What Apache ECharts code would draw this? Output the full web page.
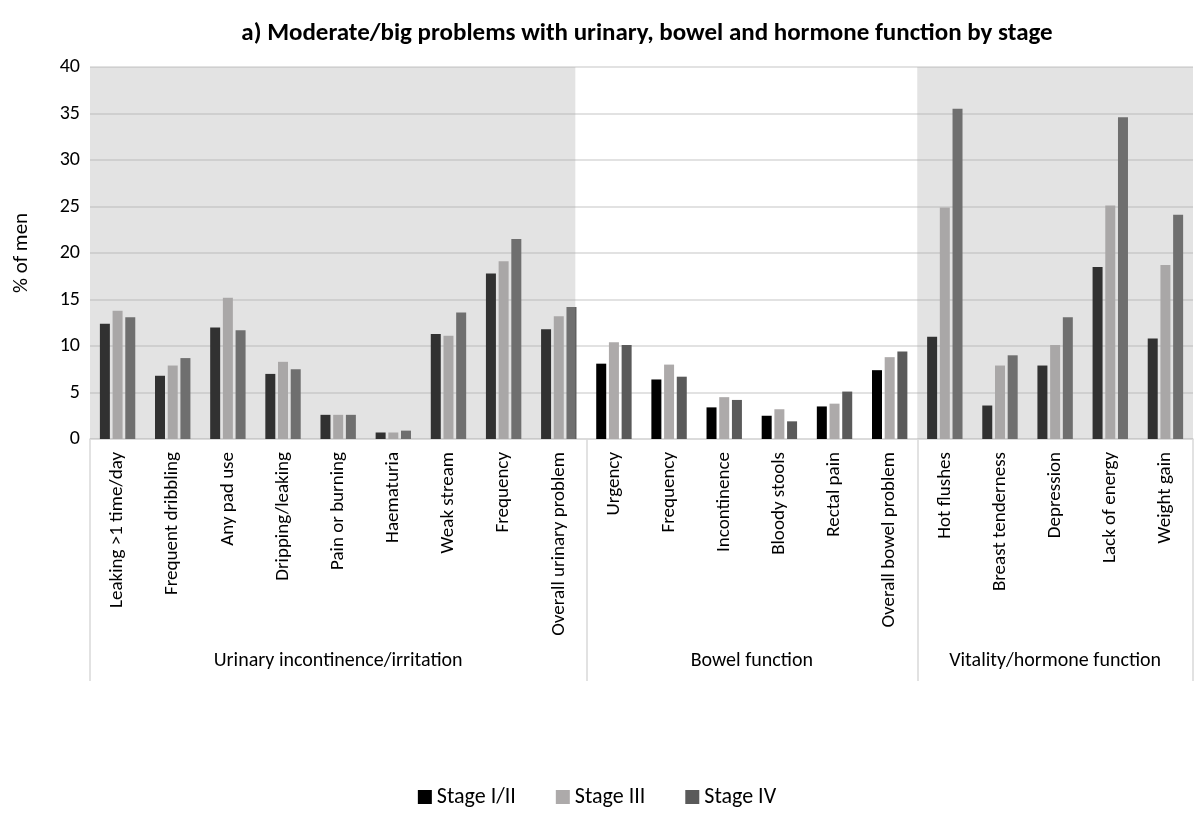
<!DOCTYPE html>
<html>
<head>
<meta charset="utf-8">
<title>Moderate/big problems by stage</title>
<script src="https://cdn.jsdelivr.net/npm/echarts@6/dist/echarts.min.js"></script>
<style>
  html, body { margin: 0; padding: 0; background: #fff; }
  #chart { width: 1194px; height: 816px; }
</style>
</head>
<body>
<div id="chart"></div>
<script>
// categories, in the order they appear
const categories = [
  'Leaking >1 time/day', 'Frequent dribbling', 'Any pad use', 'Dripping/leaking',
  'Pain or burning', 'Haematuria', 'Weak stream', 'Frequency', 'Overall urinary problem',
  'Urgency', 'Frequency ', 'Incontinence', 'Bloody stools', 'Rectal pain', 'Overall bowel problem',
  'Hot flushes', 'Breast tenderness', 'Depression', 'Lack of energy', 'Weight gain'
]
const stageNames = ['Stage I/II', 'Stage III', 'Stage IV']
const stage12 = [12.4, 6.8, 12.0, 7.0, 2.6, 0.7, 11.3, 17.8, 11.8, 8.1, 6.4, 3.4, 2.5, 3.5, 7.4, 11.0, 3.6, 7.9, 18.5, 10.8]
const stage3 = [13.8, 7.9, 15.2, 8.3, 2.6, 0.7, 11.1, 19.1, 13.2, 10.4, 8.0, 4.5, 3.2, 3.8, 8.8, 24.9, 7.9, 10.1, 25.1, 18.7]
const stage4 = [13.1, 8.7, 11.7, 7.5, 2.6, 0.9, 13.6, 21.5, 14.2, 10.1, 6.7, 4.2, 1.9, 5.1, 9.4, 35.5, 9.0, 13.1, 34.6, 24.1]

// groups along the category axis (in category-index units)
const groupNames = ['Urinary incontinence/irritation', 'Bowel function', 'Vitality/hormone function']
const groupBounds = [0, 9, 15, 20]
const groupCenters = [4.5, 12, 17.5]
// shaded bands (start, end) in category-index units
const shadeBands = [[0, 8.8], [15, 20]]

const yMax = 40
const fontFamily = 'Carlito, Lato, "Open Sans", sans-serif'

const chart = echarts.init(document.getElementById('chart'))
chart.setOption({
  animation: false,
  color: ['#000000', '#adaaaa', '#5a5a5a'],
  textStyle: { fontFamily: fontFamily },
  title: {
    text: 'a) Moderate/big problems with urinary, bowel and hormone function by stage',
    left: 642,
    top: 16,
    textAlign: 'center',
    textStyle: {
      color: '#000',
      fontSize: 25,
      fontWeight: 'bold',
      fontFamily: fontFamily
    }
  },
  legend: {
    data: stageNames,
    bottom: 3,
    left: 'center',
    itemWidth: 14,
    itemHeight: 14,
    itemGap: 40,
    icon: 'rect',
    textStyle: {
      color: '#000',
      fontSize: 22
    }
  },
  grid: {
    top: 67,
    left: 90,
    right: 1,
    bottom: 377
  },
  xAxis: [
    {
      type: 'category',
      data: categories,
      axisTick: { show: false },
      axisLine: {
        lineStyle: { color: '#d9d9d9', width: 1.5 }
      },
      axisLabel: {
        interval: 0,
        rotate: 90,
        margin: 13,
        color: '#000',
        fontSize: 19,
        formatter: v => v.trim()
      },
      splitLine: { show: false }
    },
    {
      type: 'value',
      min: 0,
      max: 20,
      position: 'bottom',
      axisLine: { show: false },
      axisTick: {
        show: true,
        customValues: groupBounds,
        length: 242,
        lineStyle: { color: '#d9d9d9', width: 1.5 }
      },
      axisLabel: {
        customValues: groupCenters,
        margin: 212,
        color: '#000',
        fontSize: 20,
        formatter: v => groupNames[groupCenters.indexOf(v)]
      },
      splitLine: { show: false }
    }
  ],
  yAxis: {
    type: 'value',
    min: 0,
    max: yMax,
    interval: 5,
    name: '% of men',
    nameLocation: 'middle',
    nameGap: 58,
    nameTextStyle: { color: '#000', fontSize: 21 },
    axisLine: { show: false },
    axisTick: { show: false },
    axisLabel: { color: '#000', fontSize: 20, margin: 10 },
    splitLine: {
      lineStyle: { color: '#d9d9d9', width: 1.5 }
    }
  },
  series: [
    { name: stageNames[0], type: 'bar', data: stage12, barWidth: 10, barGap: '27%' },
    { name: stageNames[1], type: 'bar', data: stage3, barWidth: 10, barGap: '27%' },
    { name: stageNames[2], type: 'bar', data: stage4, barWidth: 10, barGap: '27%' },
    {
      name: 'shade',
      type: 'custom',
      xAxisIndex: 1,
      yAxisIndex: 0,
      silent: true,
      z: 5,
      data: shadeBands,
      renderItem: (params, api) => {
        const p0 = api.coord([api.value(0), yMax])
        const p1 = api.coord([api.value(1), 0])
        return {
          type: 'rect',
          shape: { x: p0[0], y: p0[1], width: p1[0] - p0[0], height: p1[1] - p0[1] },
          style: { fill: 'rgba(161, 161, 161, 0.3)' }
        }
      }
    }
  ]
})
</script>
</body>
</html>
